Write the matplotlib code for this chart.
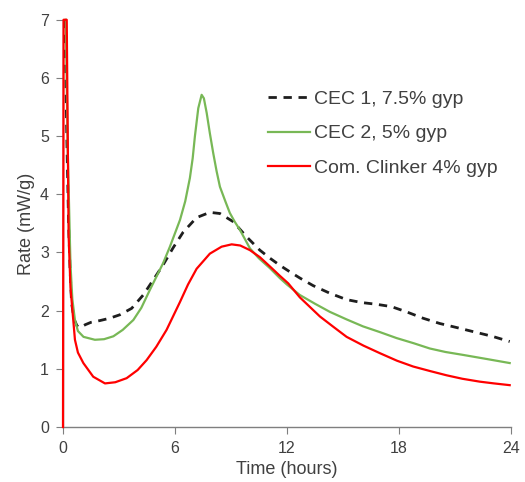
import matplotlib.pyplot as plt

plt.rcParams['font.family'] = ['Liberation Sans', 'DejaVu Sans']

# CEC 1, 7.5% gyp (black dashed)
cec1_t = [0.1, 0.21, 0.3, 0.38, 0.46, 0.6, 0.75, 0.91, 1.2, 1.5, 1.98, 2.5, 3.05,
          3.68, 4.3, 4.84, 5.37, 5.9, 6.44, 7.16, 7.87, 8.41, 9.12, 9.84, 10.55,
          11.1, 11.62, 12.1, 12.7, 13.41, 14.3, 15.2, 16.0, 16.8, 17.6, 18.41,
          19.3, 20.19, 21.1, 21.98, 23.0, 23.94]
cec1_rate = [7.0, 4.88, 3.5, 2.7, 2.13, 1.85, 1.74, 1.71, 1.76, 1.8, 1.83, 1.87, 1.93,
             2.04, 2.27, 2.53, 2.79, 3.08, 3.35, 3.6, 3.69, 3.67, 3.53, 3.27, 3.04,
             2.9, 2.78, 2.68, 2.56, 2.43, 2.3, 2.19, 2.14, 2.11, 2.07, 1.98,
             1.87, 1.78, 1.71, 1.64, 1.56, 1.47]

# CEC 2, 5% gyp (green)
cec2_t = [0.15, 0.25, 0.4, 0.5, 0.64, 0.8, 1.1, 1.71, 2.2, 2.7, 3.2, 3.77, 4.2, 4.66,
          5.0, 5.37, 5.73, 6.0, 6.27, 6.55, 6.8, 6.95, 7.07, 7.25, 7.43, 7.55, 7.7,
          7.87, 8.05, 8.23, 8.41, 8.7, 8.94, 9.2, 9.48, 10.02, 10.5, 11.09, 11.62,
          12.0, 12.69, 13.5, 14.3, 15.2, 16.08, 17.0, 17.87, 18.8, 19.66, 20.5,
          21.44, 22.7, 23.94]
cec2_rate = [7.0, 4.8, 2.8, 2.2, 1.84, 1.65, 1.55, 1.5, 1.51, 1.56, 1.67, 1.84, 2.05, 2.36,
             2.58, 2.82, 3.1, 3.33, 3.56, 3.88, 4.28, 4.62, 5.0, 5.48, 5.71, 5.65, 5.4,
             5.05, 4.71, 4.4, 4.13, 3.88, 3.68, 3.53, 3.39, 3.07, 2.9, 2.73, 2.56,
             2.45, 2.27, 2.12, 1.98, 1.85, 1.73, 1.63, 1.53, 1.44, 1.35, 1.29,
             1.24, 1.17, 1.10]

# Com. Clinker 4% gyp (red)
clk_t = [0.0, 0.03, 0.2, 0.3, 0.4, 0.52, 0.64, 0.8, 1.09, 1.62, 2.25, 2.8, 3.41, 4.0,
         4.48, 5.0, 5.55, 6.27, 6.7, 7.16, 7.87, 8.5, 9.04, 9.5, 10.02, 10.55, 11.09,
         11.62, 12.07, 12.69, 13.77, 14.5, 15.2, 16.1, 16.98, 17.9, 18.77, 19.7,
         20.55, 21.4, 22.34, 23.1, 23.94]
clk_rate = [0.0, 7.0, 7.0, 3.3, 2.4, 1.95, 1.5, 1.28, 1.1, 0.865, 0.75, 0.77, 0.84, 0.98,
            1.15, 1.38, 1.67, 2.15, 2.45, 2.72, 2.98, 3.1, 3.14, 3.12, 3.04, 2.92, 2.76,
            2.6, 2.47, 2.23, 1.9, 1.72, 1.55, 1.4, 1.27, 1.14, 1.04, 0.96,
            0.89, 0.83, 0.78, 0.75, 0.72]

x_ticks = [0, 6, 12, 18, 24]
y_ticks = [0, 1, 2, 3, 4, 5, 6, 7]

fig = plt.figure(figsize=(5.25, 4.82), dpi=100)
ax = fig.add_axes([0.12, 0.114, 0.853, 0.845])

ax.plot(cec1_t, cec1_rate, color='#1e1e1e', lw=2.0, dashes=(3.0, 2.4),
        label='CEC 1, 7.5% gyp', clip_on=False, zorder=3)
ax.plot(cec2_t, cec2_rate, color='#78B856', lw=1.6, label='CEC 2, 5% gyp',
        clip_on=False, zorder=3)
ax.plot(clk_t, clk_rate, color='#FF0000', lw=1.6, label='Com. Clinker 4% gyp',
        clip_on=False, zorder=3)

ax.set_xlim(0, 24)
ax.set_ylim(0, 7)
ax.set_xticks(x_ticks)
ax.set_yticks(y_ticks)

for side in ['top', 'right']:
    ax.spines[side].set_visible(False)
for side in ['left', 'bottom']:
    ax.spines[side].set_color('#7f7f7f')
    ax.spines[side].set_linewidth(1.0)
ax.tick_params(direction='out', length=5, color='#7f7f7f', labelsize=11.5,
               labelcolor='#404040', pad=5)

ax.set_xlabel('Time (hours)', fontsize=13, color='#404040', labelpad=4)
ax.set_ylabel('Rate (mW/g)', fontsize=13, color='#404040', labelpad=4)

leg = ax.legend(loc='upper left', bbox_to_anchor=(0.51, 0.812),
                bbox_transform=fig.transFigure, frameon=False, borderpad=0,
                borderaxespad=0, fontsize=14, handlelength=2.15,
                handletextpad=0.25, labelspacing=0.85)
for t in leg.get_texts():
    t.set_color('#404040')

fig.savefig('out.png', dpi=100)
